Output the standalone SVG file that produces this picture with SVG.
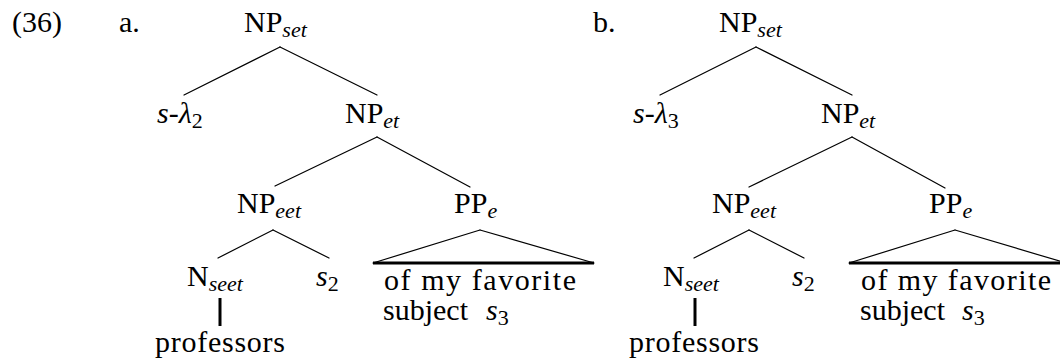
<svg xmlns="http://www.w3.org/2000/svg" width="1060" height="362" viewBox="0 0 1060 362">
<style>
text{font-size:30px;fill:#000}
.i{font-style:italic}
.sub{font-size:22px;font-style:italic}
.subn{font-size:22px}
.leaf{font-size:30px}
.br{stroke:#000;stroke-width:1.2;fill:none;stroke-linecap:round}
.thick{stroke:#000;stroke-width:3;fill:none}
</style>
<rect width="1060" height="362" fill="#fff"/>
<g id="labels">
<text font-family="Liberation Serif" x="12" y="32">(36)</text>
<text font-family="Liberation Serif" x="119" y="32">a.</text>
<text font-family="Liberation Serif" x="593" y="32">b.</text>
</g>
<g id="connectors">
<line class="br" x1="280" y1="47" x2="184" y2="95"/>
<line class="br" x1="280" y1="47" x2="377" y2="95"/>
<line class="br" x1="377" y1="137" x2="275" y2="186"/>
<line class="br" x1="377" y1="137" x2="470" y2="187"/>
<line class="br" x1="273" y1="230" x2="218" y2="258"/>
<line class="br" x1="273" y1="230" x2="329" y2="258"/>
<line class="br" x1="480" y1="230" x2="373" y2="263"/>
<line class="br" x1="480" y1="230" x2="594" y2="263"/>
<line class="thick" x1="373" y1="263" x2="594" y2="263"/>
<line class="thick" x1="220" y1="298" x2="220" y2="326"/>
<line class="br" x1="756" y1="47" x2="660" y2="95"/>
<line class="br" x1="756" y1="47" x2="852" y2="95"/>
<line class="br" x1="852" y1="137" x2="749" y2="187"/>
<line class="br" x1="852" y1="137" x2="945" y2="188"/>
<line class="br" x1="749" y1="230" x2="694" y2="258"/>
<line class="br" x1="749" y1="230" x2="804" y2="258"/>
<line class="br" x1="955" y1="230" x2="849" y2="263"/>
<line class="br" x1="955" y1="230" x2="1066" y2="263"/>
<line class="thick" x1="849" y1="263" x2="1066" y2="263"/>
<line class="thick" x1="695" y1="298" x2="695" y2="326"/>
</g>
<g id="a-NPset"><text font-family="Liberation Serif" x="244" y="32">NP<tspan class="sub" dy="5">set</tspan></text></g>
<g id="a-slambda"><text font-family="Liberation Serif" x="157" y="123"><tspan class="i">s</tspan>-<tspan class="i">λ</tspan><tspan class="subn" dy="5">2</tspan></text></g>
<g id="a-NPet"><text font-family="Liberation Serif" x="345" y="123">NP<tspan class="sub" dy="5">et</tspan></text></g>
<g id="a-NPeet"><text font-family="Liberation Serif" x="237" y="213">NP<tspan class="sub" dy="5">eet</tspan></text></g>
<g id="a-PPe"><text font-family="Liberation Serif" x="454" y="213">PP<tspan class="sub" dy="5">e</tspan></text></g>
<g id="a-Nseet"><text font-family="Liberation Serif" x="187" y="286">N<tspan class="sub" dy="5">seet</tspan></text></g>
<g id="a-s2"><text font-family="Liberation Serif" x="316" y="286"><tspan class="i">s</tspan><tspan class="subn" dy="5">2</tspan></text></g>
<g id="a-pp-text"><text font-family="Liberation Serif" class="leaf" x="384" y="290" textLength="192" lengthAdjust="spacing">of my favorite</text><text font-family="Liberation Serif" class="leaf" x="383" y="320">subject<tspan class="i" x="486">s</tspan><tspan class="subn" dy="5">3</tspan></text></g>
<g id="a-professors"><text font-family="Liberation Serif" class="leaf" x="155" y="352" textLength="130" lengthAdjust="spacing">professors</text></g>
<g id="b-NPset"><text font-family="Liberation Serif" x="719" y="32">NP<tspan class="sub" dy="5">set</tspan></text></g>
<g id="b-slambda"><text font-family="Liberation Serif" x="633" y="123"><tspan class="i">s</tspan>-<tspan class="i">λ</tspan><tspan class="subn" dy="5">3</tspan></text></g>
<g id="b-NPet"><text font-family="Liberation Serif" x="821" y="123">NP<tspan class="sub" dy="5">et</tspan></text></g>
<g id="b-NPeet"><text font-family="Liberation Serif" x="712" y="213">NP<tspan class="sub" dy="5">eet</tspan></text></g>
<g id="b-PPe"><text font-family="Liberation Serif" x="929" y="213">PP<tspan class="sub" dy="5">e</tspan></text></g>
<g id="b-Nseet"><text font-family="Liberation Serif" x="663" y="286">N<tspan class="sub" dy="5">seet</tspan></text></g>
<g id="b-s2"><text font-family="Liberation Serif" x="792" y="286"><tspan class="i">s</tspan><tspan class="subn" dy="5">2</tspan></text></g>
<g id="b-pp-text"><text font-family="Liberation Serif" class="leaf" x="861" y="290" textLength="190" lengthAdjust="spacing">of my favorite</text><text font-family="Liberation Serif" class="leaf" x="860" y="320">subject<tspan class="i" x="962">s</tspan><tspan class="subn" dy="5">3</tspan></text></g>
<g id="b-professors"><text font-family="Liberation Serif" class="leaf" x="629" y="352" textLength="130" lengthAdjust="spacing">professors</text></g>
</svg>
